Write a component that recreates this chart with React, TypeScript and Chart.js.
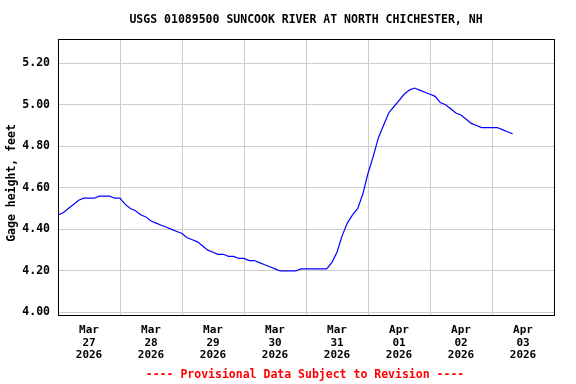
import React, { useEffect, useRef } from 'react';
import { Chart, registerables } from 'chart.js';

Chart.register(...registerables);

const TITLE = 'USGS 01089500 SUNCOOK RIVER AT NORTH CHICHESTER, NH';
const Y_LABEL = 'Gage height, feet';
const FOOTER = '---- Provisional Data Subject to Revision ----';

// Day labels (centered at noon of each day)
const DAY_MONTHS = ['Mar', 'Mar', 'Mar', 'Mar', 'Mar', 'Apr', 'Apr', 'Apr'];
const DAY_NUMS = ['27', '28', '29', '30', '31', '01', '02', '03'];
const DAY_YEARS = ['2026', '2026', '2026', '2026', '2026', '2026', '2026', '2026'];

const Y_TICKS = [4.0, 4.2, 4.4, 4.6, 4.8, 5.0, 5.2];

// Gage height (ft), one reading every 2 hours from Mar 27 00:00
const GAGE_FT = [
  4.47, 4.48, 4.50, 4.52, 4.54, 4.55, 4.55, 4.55, 4.56, 4.56,
  4.56, 4.55, 4.55, 4.52, 4.50, 4.49, 4.47, 4.46, 4.44, 4.43,
  4.42, 4.41, 4.40, 4.39, 4.38, 4.36, 4.35, 4.34, 4.32, 4.30,
  4.29, 4.28, 4.28, 4.27, 4.27, 4.26, 4.26, 4.25, 4.25, 4.24,
  4.23, 4.22, 4.21, 4.20, 4.20, 4.20, 4.20, 4.21, 4.21, 4.21,
  4.21, 4.21, 4.21, 4.24, 4.29, 4.37, 4.43, 4.47, 4.50, 4.57,
  4.67, 4.75, 4.84, 4.90, 4.96, 4.99, 5.02, 5.05, 5.07, 5.08,
  5.07, 5.06, 5.05, 5.04, 5.01, 5.00, 4.98, 4.96, 4.95, 4.93,
  4.91, 4.90, 4.89, 4.89, 4.89, 4.89, 4.88, 4.87, 4.86,
];
const HOURS = GAGE_FT.map((_, i) => i * 2);

const FONT_FAMILY = '"DejaVu Sans Mono", "Liberation Mono", monospace';

const decorPlugin = {
  id: 'decor',
  afterDraw(chart: any) {
    const { ctx, chartArea: a } = chart;
    ctx.save();
    ctx.strokeStyle = '#000000';
    ctx.lineWidth = 1;
    ctx.strokeRect(a.left + 0.5, a.top + 0.5, a.right - a.left, a.bottom - a.top);

    const cx = (a.left + a.right) / 2;
    ctx.fillStyle = '#000000';
    ctx.textAlign = 'center';
    ctx.textBaseline = 'middle';
    ctx.font = `bold 11.5px ${FONT_FAMILY}`;
    ctx.fillText(TITLE, cx, 20);

    ctx.save();
    ctx.translate(12, 183);
    ctx.rotate(-Math.PI / 2);
    ctx.font = `bold 11.5px ${FONT_FAMILY}`;
    ctx.fillText(Y_LABEL, 0, 0);
    ctx.restore();

    ctx.fillStyle = '#ff0000';
    ctx.font = `bold 11.5px ${FONT_FAMILY}`;
    ctx.fillText(FOOTER, cx - 1, 375);
    ctx.restore();
  },
};

export default function App() {
  const ref = useRef<HTMLCanvasElement | null>(null);

  useEffect(() => {
    if (!ref.current) return;
    const chart = new Chart(ref.current, {
      type: 'line',
      data: {
        datasets: [
          {
            data: HOURS.map((h, i) => ({ x: h, y: GAGE_FT[i] })),
            borderColor: '#0000ff',
            borderWidth: 1.2,
            pointRadius: 0,
            tension: 0,
            fill: false,
          },
        ],
      },
      options: {
        animation: false,
        responsive: false,
        maintainAspectRatio: false,
        layout: { padding: { top: 39, right: 22, left: 0, bottom: 0 } },
        plugins: {
          legend: { display: false },
          title: { display: false },
          tooltip: { enabled: false },
        },
        scales: {
          x: {
            type: 'linear',
            min: 0,
            max: 192,
            afterBuildTicks: (scale: any) => {
              const t = [];
              for (let i = 0; i <= 16; i++) t.push({ value: i * 12 });
              scale.ticks = t;
            },
            afterFit: (scale: any) => {
              scale.height = 69;
            },
            border: { display: false },
            grid: {
              drawTicks: false,
              color: (c: any) =>
                c.tick && c.tick.value % 24 === 0 ? '#cccccc' : 'rgba(0,0,0,0)',
              lineWidth: 1,
            },
            ticks: {
              autoSkip: false,
              maxRotation: 0,
              minRotation: 0,
              padding: 9,
              color: '#000000',
              font: { family: FONT_FAMILY, size: 11, weight: 'bold', lineHeight: 1.15 },
              callback: (v: any) => {
                const n = Number(v);
                if (n % 24 !== 12) return '';
                const idx = (n - 12) / 24;
                return [DAY_MONTHS[idx], DAY_NUMS[idx], DAY_YEARS[idx]];
              },
            },
          },
          y: {
            type: 'linear',
            min: 3.988,
            max: 5.316,
            afterBuildTicks: (scale: any) => {
              scale.ticks = Y_TICKS.map((v) => ({ value: v }));
            },
            afterFit: (scale: any) => {
              scale.width = 58;
            },
            border: { display: false },
            grid: { drawTicks: false, color: '#cccccc', lineWidth: 1 },
            ticks: {
              padding: 8,
              color: '#000000',
              font: { family: FONT_FAMILY, size: 11.5, weight: 'bold' },
              callback: (v: any) => Number(v).toFixed(2),
            },
          },
        },
      },
      plugins: [decorPlugin],
    } as any);
    return () => chart.destroy();
  }, []);

  return (
    <div style={{ position: 'absolute', left: 0, top: 0, width: 576, height: 384, background: '#ffffff' }}>
      <canvas ref={ref} width={576} height={384} style={{ width: 576, height: 384, display: 'block' }} />
    </div>
  );
}
